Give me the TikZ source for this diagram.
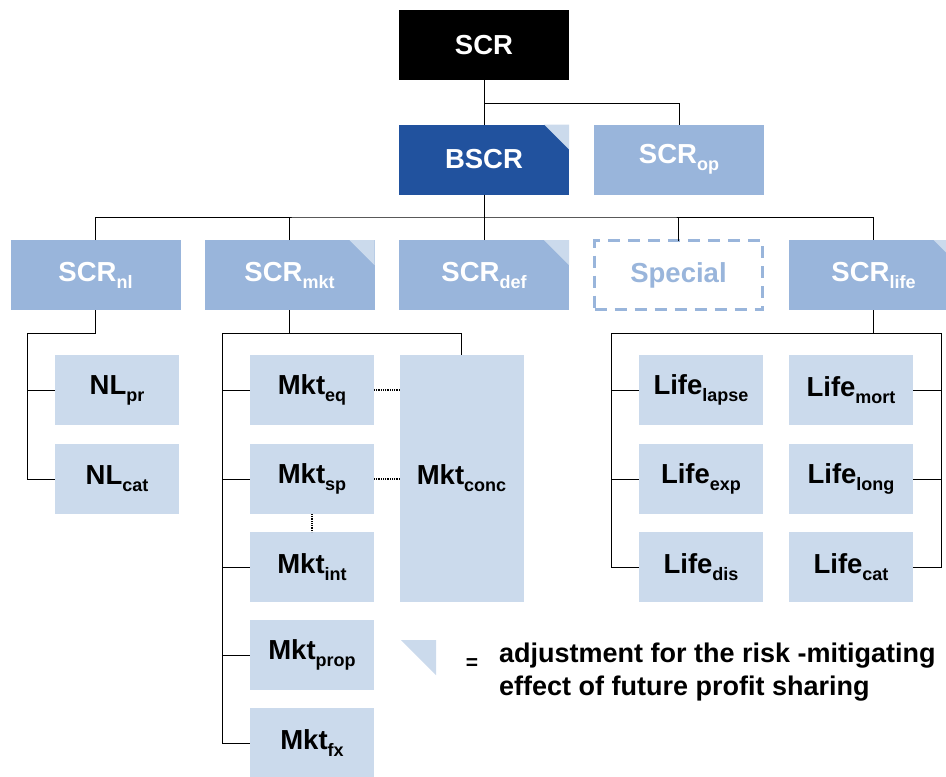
\documentclass[tikz,border=0pt]{standalone}
\usepackage{fontspec}
\setmainfont{Liberation Sans}
\definecolor{dkblue}{RGB}{33,82,158}
\definecolor{mdblue}{RGB}{153,181,219}
\definecolor{ltblue}{RGB}{203,218,236}
\newcommand\sbt[1]{\raisebox{-7pt}{\fontsize{18}{18}\selectfont #1}}
\tikzset{
  x=1pt,y=-1pt,
  base/.style={inner sep=0pt, outer sep=0pt, align=center, font=\fontsize{27.5}{30}\selectfont\bfseries},
  topbox/.style={base, fill=black, text=white, minimum width=170, minimum height=70},
  darkbox/.style={base, fill=dkblue, text=white, minimum width=170, minimum height=70},
  midbox/.style={base, fill=mdblue, text=white, minimum width=170, minimum height=70},
  specbox/.style={base, draw=mdblue, line width=3pt, dash pattern=on 12pt off 8pt, text=mdblue, minimum width=168, minimum height=69},
  subbox/.style={base, fill=ltblue, text=black, minimum width=124, minimum height=70},
  conn/.style={draw=black, line width=1pt},
  dotconn/.style={draw=black, line width=1.3pt, dash pattern=on 1pt off 0.8pt},
  corner/.style={fill=ltblue},
}
\begin{document}
\begin{tikzpicture}
\useasboundingbox (0,0) rectangle (946,777);
% top levels
\node[topbox] (scr) at (484,45) {SCR};
\node[darkbox] (bscr) at (484,159.5) {BSCR};
\node[midbox] (op) at (679,159.5) {SCR\sbt{op}};
% row 2
\node[midbox] (nl) at (95.5,275) {SCR\sbt{nl}};
\node[midbox] (mkt) at (289.5,275) {SCR\sbt{mkt}};
\node[midbox] (def) at (484,275) {SCR\sbt{def}};
\node[specbox] (spec) at (678.5,275) {Special};
\node[midbox] (life) at (873.5,275) {SCR\sbt{life}};
% NL
\node[subbox] (nlpr) at (117,390) {NL\sbt{pr}};
\node[subbox] (nlcat) at (117,479) {NL\sbt{cat}};
% Mkt
\node[subbox] (mkteq) at (312,390) {Mkt\sbt{eq}};
\node[subbox] (mktsp) at (312,479) {Mkt\sbt{sp}};
\node[subbox] (mktint) at (312,567) {Mkt\sbt{int}};
\node[subbox] (mktprop) at (312,655) {Mkt\sbt{prop}};
\node[subbox] (mktfx) at (312,743) {Mkt\sbt{fx}};
\node[subbox, minimum height=247] (conc) at (461.5,478.5) {Mkt\sbt{conc}};
% Life
\node[subbox] (lapse) at (701,390) {Life\sbt{lapse}};
\node[subbox] (lexp) at (701,479) {Life\sbt{exp}};
\node[subbox] (ldis) at (701,567) {Life\sbt{dis}};
\node[subbox] (mort) at (851,390) {Life\sbt{mort}};
\node[subbox] (llong) at (851,479) {Life\sbt{long}};
\node[subbox] (lcat) at (851,567) {Life\sbt{cat}};
% corner triangles
\foreach \n in {bscr,mkt,def,life}{
  \fill[corner] (\n.north east) -- ++(-25,0) -- ++(25,25) -- cycle;
}
% junctions
\coordinate (j1) at (484,103);
\coordinate (bus) at (484,217);
\coordinate (nlj) at (27,333);
\coordinate (mktj) at (222,333);
\coordinate (lifel) at (611,333);
\coordinate (lifer) at (941,333);
% connectors top
\draw[conn] (scr.south) -- (bscr.north);
\draw[conn] (j1) -| (op.north);
\draw[conn] (bscr.south) -- (bus);
\draw[conn] (nl.north) |- (bus) -| (life.north);
\draw[conn] (mkt.north) -- (mkt.north |- bus);
\draw[conn] (def.north) -- (def.north |- bus);
\draw[conn] (spec.north) -- (spec.north |- bus);
% NL
\draw[conn] (nl.south) |- (nlj) |- (nlcat.west);
\draw[conn] (nlj |- nlpr.west) -- (nlpr.west);
% Mkt
\draw[conn] (mkt.south) |- (mktj) |- (mktfx.west);
\draw[conn] (mkt.south |- mktj) -| (conc.north);
\foreach \n in {mkteq,mktsp,mktint,mktprop}{
  \draw[conn] (mktj |- \n.west) -- (\n.west);
}
\draw[dotconn] (mkteq.east) -- (conc.west |- mkteq.east);
\draw[dotconn] (mktsp.east) -- (conc.west |- mktsp.east);
\draw[dotconn] (mktsp.south) -- (mktint.north);
% Life
\draw[conn] (life.south) -- (life.south |- lifel);
\draw[conn] (ldis.west) -| (lifel) -- (lifer) |- (lcat.east);
\draw[conn] (lifel |- lapse.west) -- (lapse.west);
\draw[conn] (lifel |- lexp.west) -- (lexp.west);
\draw[conn] (lifer |- mort.east) -- (mort.east);
\draw[conn] (lifer |- llong.east) -- (llong.east);
% legend
\fill[corner] (401,640) -- (436,640) -- (436,675) -- cycle;
\node[inner sep=0pt, font=\fontsize{21}{21}\selectfont\bfseries] (eq) at (472,664) {=};
\node[inner sep=0pt, anchor=west, align=left, font=\fontsize{27}{33}\selectfont\bfseries] (legend) at (499,672) {adjustment for the risk -mitigating\\effect of future profit sharing};
\end{tikzpicture}
\end{document}
